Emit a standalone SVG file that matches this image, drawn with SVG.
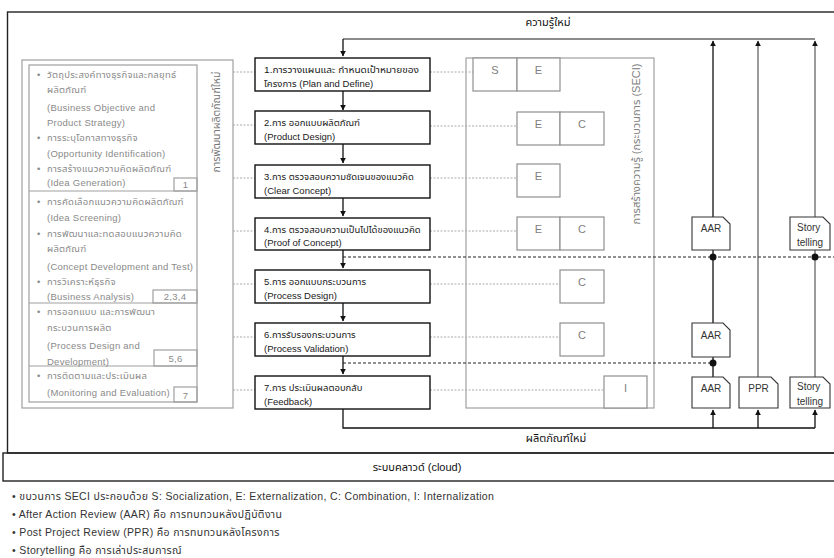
<svg xmlns="http://www.w3.org/2000/svg" width="834" height="558" viewBox="0 0 834 558">
  <defs>
    <style>
      text { font-family: "Liberation Sans", "Noto Sans Thai", "Noto Sans", "DejaVu Sans", sans-serif; }
      .frame { fill: none; stroke: #222; stroke-width: 1.4; }
      .step { fill: #fff; stroke: #111; stroke-width: 1.4; }
      .step-t { font-size: 9.5px; fill: #1a1a1a; }
      .panel { fill: none; stroke: #a0a0a0; stroke-width: 1.2; }
      .panel-t { font-size: 9.5px; fill: #8a8a8a; letter-spacing: 0.25px; }
      .seci { fill: #fff; stroke: #909090; stroke-width: 1.2; }
      .seci-t { font-size: 11px; fill: #808080; text-anchor: middle; }
      .doc { fill: #fff; stroke: #333; stroke-width: 1.1; }
      .doc-t { font-size: 10px; fill: #333; }
      .dot-g { stroke: #aaa; stroke-width: 1; stroke-dasharray: 2 1.5; fill: none; }
      .dash-k { stroke: #222; stroke-width: 1.1; stroke-dasharray: 3 2; fill: none; }
      .flow { stroke: #111; stroke-width: 1.3; fill: none; }
      .flow-g { stroke: #666; stroke-width: 1.3; fill: none; }
      .lbl { font-size: 11px; fill: #111; text-anchor: middle; }
      .note { font-size: 10.5px; fill: #333; letter-spacing: 0.35px; }
    </style>
    <marker id="ah" viewBox="0 0 10 10" refX="9" refY="5" markerWidth="6" markerHeight="7" markerUnits="userSpaceOnUse" orient="auto">
      <path d="M0 0 L10 5 L0 10 Z" fill="#111"/>
    </marker>
  </defs>

  <rect width="834" height="558" fill="#fff"/>

  <!-- outer frames -->
  <rect class="frame" x="7.5" y="12" width="840" height="441"/>
  <rect class="frame" x="3" y="453" width="845" height="28"/>
  <text class="lbl" x="417" y="471">ระบบคลาวด์ (cloud)</text>

  <!-- left panel: new product development stages -->
  <g id="dev-panel">
    <rect class="panel" x="22" y="60" width="211" height="348"/>
    <rect class="panel" x="29" y="65" width="168" height="337"/>
    <line class="panel" x1="29" y1="191" x2="197" y2="191"/>
    <line class="panel" x1="29" y1="303" x2="197" y2="303"/>
    <line class="panel" x1="29" y1="366" x2="197" y2="366"/>
    <rect class="panel" x="174" y="178" width="23" height="13"/>
    <rect class="panel" x="153" y="290" width="44" height="13"/>
    <rect class="panel" x="154" y="350" width="43" height="16"/>
    <rect class="panel" x="174" y="387" width="23" height="15"/>
    <g class="panel-t">
      <text x="185.5" y="188" text-anchor="middle">1</text>
      <text x="175" y="300" text-anchor="middle">2,3,4</text>
      <text x="175.5" y="362" text-anchor="middle">5,6</text>
      <text x="185.5" y="399" text-anchor="middle">7</text>
      <text x="37" y="78">•</text><text x="47" y="78">วัตถุประสงค์ทางธุรกิจและกลยุทธ์</text>
      <text x="47" y="93">ผลิตภัณฑ์</text>
      <text x="47" y="111">(Business Objective and</text>
      <text x="47" y="126">Product Strategy)</text>
      <text x="37" y="141">•</text><text x="47" y="141">การระบุโอกาสทางธุรกิจ</text>
      <text x="47" y="157">(Opportunity Identification)</text>
      <text x="37" y="172">•</text><text x="47" y="172">การสร้างแนวความคิดผลิตภัณฑ์</text>
      <text x="47" y="186">(Idea Generation)</text>
      <text x="37" y="205">•</text><text x="47" y="205">การคัดเลือกแนวความคิดผลิตภัณฑ์</text>
      <text x="47" y="221">(Idea Screening)</text>
      <text x="37" y="237">•</text><text x="47" y="237">การพัฒนาและทดสอบแนวความคิด</text>
      <text x="47" y="252">ผลิตภัณฑ์</text>
      <text x="47" y="270">(Concept Development and Test)</text>
      <text x="37" y="285">•</text><text x="47" y="285">การวิเคราะห์ธุรกิจ</text>
      <text x="47" y="300">(Business Analysis)</text>
      <text x="37" y="315">•</text><text x="47" y="315">การออกแบบ และการพัฒนา</text>
      <text x="47" y="331">กระบวนการผลิต</text>
      <text x="47" y="349">(Process Design and</text>
      <text x="47" y="365">Development)</text>
      <text x="37" y="379">•</text><text x="47" y="379">การติดตามและประเมินผล</text>
      <text x="47" y="396">(Monitoring and Evaluation)</text>
      <text transform="translate(220 122) rotate(-90)" text-anchor="middle" font-size="10.5" fill="#777" letter-spacing="0">การพัฒนาผลิตภัณฑ์ใหม่</text>
    </g>
  </g>

  <!-- SECI frame -->
  <g id="seci-panel">
    <rect class="panel" x="466" y="58" width="188" height="350"/>
    <text transform="translate(640 144) rotate(-90)" text-anchor="middle" font-size="11" fill="#808080">การสร้างความรู้ (กระบวนการ (SECI)</text>
  </g>

  <!-- connectors -->
  <g id="connectors">
    <!-- dotted links: panel to steps -->
    <path class="dot-g" d="M233 72H255 M233 125H255 M233 178H255 M233 231H255 M233 284H255 M233 337H255 M233 390H255"/>
    <!-- dotted links: steps to SECI cells -->
    <path class="dot-g" d="M430 72H473 M430 126H517 M430 178H517 M430 231H517 M430 284H560 M430 337H560 M430 390H604"/>
    <!-- step sequence -->
    <path class="flow" d="M343 91V110" marker-end="url(#ah)"/>
    <path class="flow" d="M343 143V163" marker-end="url(#ah)"/>
    <path class="flow" d="M343 198V216" marker-end="url(#ah)"/>
    <path class="flow" d="M343 250V268" marker-end="url(#ah)"/>
    <path class="flow" d="M343 303V321" marker-end="url(#ah)"/>
    <path class="flow" d="M343 356V374" marker-end="url(#ah)"/>
    <!-- new knowledge loop (top) -->
    <path class="flow-g" d="M815 39H343"/>
    <path class="flow" d="M343 39V56" marker-end="url(#ah)"/>
    <path class="flow" d="M713 217V41" marker-end="url(#ah)"/>
    <path class="flow-g" d="M758 377V41" marker-end="url(#ah)"/>
    <path class="flow-g" d="M815 217V41" marker-end="url(#ah)"/>
    <!-- review chain -->
    <path class="flow" d="M713 250V323 M713 357V377"/>
    <path class="flow-g" d="M815 250V377"/>
    <!-- new product (bottom) -->
    <path class="flow" d="M343 409V428H815"/>
    <path class="flow" d="M713 428V410" marker-end="url(#ah)"/>
    <path class="flow" d="M758 428V410" marker-end="url(#ah)"/>
    <path class="flow" d="M815 428V410" marker-end="url(#ah)"/>
    <!-- knowledge capture lines -->
    <path class="dash-k" d="M343 257H840"/>
    <path class="dash-k" d="M343 363H713"/>
    <circle cx="713" cy="257" r="3.5" fill="#111"/>
    <circle cx="815" cy="257" r="3.5" fill="#111"/>
    <circle cx="713" cy="363" r="3.5" fill="#111"/>
  </g>
  <text class="lbl" x="548" y="26">ความรู้ใหม่</text>
  <text class="lbl" x="556" y="442">ผลิตภัณฑ์ใหม่</text>

  <!-- process steps -->
  <g id="step1"><rect class="step" x="255" y="58" width="175" height="33"/>
    <text class="step-t" x="264" y="73" textLength="155" lengthAdjust="spacingAndGlyphs">1.การวางแผนและ กำหนดเป้าหมายของ</text>
    <text class="step-t" x="264" y="87">โครงการ (Plan and Define)</text></g>
  <g id="step2"><rect class="step" x="255" y="111" width="175" height="33"/>
    <text class="step-t" x="264" y="126">2.การ ออกแบบผลิตภัณฑ์</text>
    <text class="step-t" x="264" y="140">(Product Design)</text></g>
  <g id="step3"><rect class="step" x="255" y="165" width="175" height="33"/>
    <text class="step-t" x="264" y="180">3.การ ตรวจสอบความชัดเจนของแนวคิด</text>
    <text class="step-t" x="264" y="194">(Clear Concept)</text></g>
  <g id="step4"><rect class="step" x="255" y="218" width="175" height="32"/>
    <text class="step-t" x="264" y="233">4.การ ตรวจสอบความเป็นไปได้ของแนวคิด</text>
    <text class="step-t" x="264" y="246">(Proof of Concept)</text></g>
  <g id="step5"><rect class="step" x="255" y="270" width="175" height="33"/>
    <text class="step-t" x="264" y="285">5.การ ออกแบบกระบวนการ</text>
    <text class="step-t" x="264" y="299">(Process Design)</text></g>
  <g id="step6"><rect class="step" x="255" y="323" width="175" height="33"/>
    <text class="step-t" x="264" y="338">6.การรับรองกระบวนการ</text>
    <text class="step-t" x="264" y="352">(Process Validation)</text></g>
  <g id="step7"><rect class="step" x="255" y="376" width="175" height="33"/>
    <text class="step-t" x="264" y="391">7.การ ประเมินผลตอบกลับ</text>
    <text class="step-t" x="264" y="405">(Feedback)</text></g>

  <!-- SECI cells -->
  <g id="seci1"><rect class="seci" x="473" y="58" width="44" height="33"/><rect class="seci" x="517" y="58" width="43" height="33"/>
    <text class="seci-t" x="495" y="74">S</text><text class="seci-t" x="538.5" y="74">E</text></g>
  <g id="seci2"><rect class="seci" x="517" y="112" width="43" height="33"/><rect class="seci" x="560" y="112" width="44" height="33"/>
    <text class="seci-t" x="538.5" y="128">E</text><text class="seci-t" x="582" y="128">C</text></g>
  <g id="seci3"><rect class="seci" x="517" y="164" width="43" height="33"/>
    <text class="seci-t" x="538.5" y="180">E</text></g>
  <g id="seci4"><rect class="seci" x="517" y="217" width="43" height="33"/><rect class="seci" x="560" y="217" width="44" height="33"/>
    <text class="seci-t" x="538.5" y="233">E</text><text class="seci-t" x="582" y="233">C</text></g>
  <g id="seci5"><rect class="seci" x="560" y="270" width="44" height="33"/>
    <text class="seci-t" x="582" y="286">C</text></g>
  <g id="seci6"><rect class="seci" x="560" y="323" width="44" height="33"/>
    <text class="seci-t" x="582" y="339">C</text></g>
  <g id="seci7"><rect class="seci" x="604" y="376" width="43" height="32"/>
    <text class="seci-t" x="625.5" y="392" fill="#5a9a5a">I</text></g>

  <!-- review documents -->
  <g id="aar1"><path class="doc" d="M692 217H723L730 224V250H692Z"/><text class="doc-t" x="711" y="232" text-anchor="middle">AAR</text></g>
  <g id="story1"><path class="doc" d="M790 217H823L830 224V250H790Z"/><text class="doc-t" x="797" y="231">Story</text><text class="doc-t" x="797" y="246">telling</text></g>
  <g id="aar2"><path class="doc" d="M692 323H723L730 330V357H692Z"/><text class="doc-t" x="711" y="339" text-anchor="middle">AAR</text></g>
  <g id="aar3"><path class="doc" d="M692 377H723L730 384V408H692Z"/><text class="doc-t" x="711" y="392" text-anchor="middle">AAR</text></g>
  <g id="ppr"><path class="doc" d="M739 377H771L778 384V408H739Z"/><text class="doc-t" x="758.5" y="392" text-anchor="middle">PPR</text></g>
  <g id="story2"><path class="doc" d="M790 377H823L830 384V408H790Z"/><text class="doc-t" x="797" y="390">Story</text><text class="doc-t" x="797" y="405">telling</text></g>

  <!-- notes -->
  <g id="notes" class="note">
    <text x="12" y="500">• ขบวนการ SECI ประกอบด้วย S: Socialization, E: Externalization, C: Combination, I: Internalization</text>
    <text x="12" y="518">• After Action Review (AAR) คือ การทบทวนหลังปฏิบัติงาน</text>
    <text x="12" y="536">• Post Project Review (PPR) คือ การทบทวนหลังโครงการ</text>
    <text x="12" y="554">• Storytelling คือ การเล่าประสบการณ์</text>
  </g>
</svg>
